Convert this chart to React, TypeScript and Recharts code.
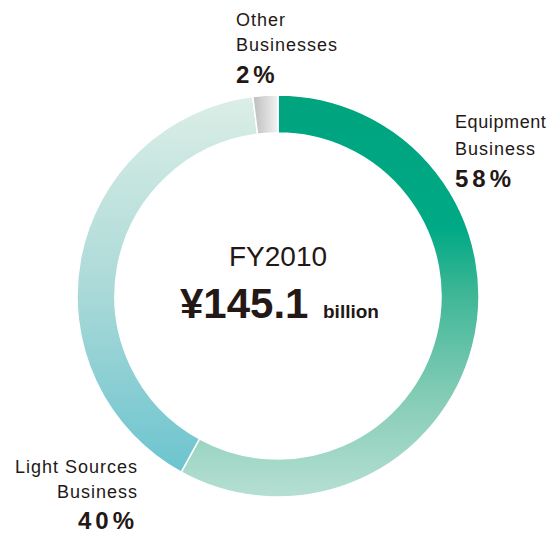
import { PieChart, Pie, Cell } from 'recharts'

const segments = ['Equipment Business', 'Light Sources Business', 'Other Businesses']
const shares = [58, 40, 2]
const fills = ['url(#gradEquipment)', 'url(#gradLight)', 'url(#gradOther)']

const data = segments.map((name, i) => ({ name, value: shares[i] }))

const font = '"Liberation Sans", Arial, Helvetica, sans-serif'
const ink = '#231815'

export default function App() {
  return (
    <PieChart width={547} height={525} style={{ overflow: 'visible' }}>
      <defs>
        <linearGradient id="gradEquipment" x1="0" y1="0" x2="0" y2="1">
          <stop offset="0" stopColor="#00a47f" />
          <stop offset="0.33" stopColor="#00a985" />
          <stop offset="0.5" stopColor="#40b797" />
          <stop offset="0.75" stopColor="#84ccb6" />
          <stop offset="1" stopColor="#b6dfd3" />
        </linearGradient>
        <linearGradient id="gradLight" x1="0" y1="0" x2="0" y2="1">
          <stop offset="0" stopColor="#dbeee6" />
          <stop offset="0.5" stopColor="#acdad8" />
          <stop offset="1" stopColor="#6cc4cf" />
        </linearGradient>
        <linearGradient id="gradOther" x1="0" y1="0" x2="1" y2="0">
          <stop offset="0" stopColor="#bdbdbd" />
          <stop offset="1" stopColor="#f2f2f2" />
        </linearGradient>
      </defs>
      <Pie
        data={data}
        dataKey="value"
        nameKey="name"
        cx={265}
        cy={283}
        innerRadius={163}
        outerRadius={201}
        startAngle={90}
        endAngle={-270}
        stroke="#ffffff"
        strokeWidth={1.5}
        isAnimationActive={false}
      >
        {data.map((d, i) => (
          <Cell key={d.name} fill={fills[i]} />
        ))}
      </Pie>

      <g fontFamily={font} fill={ink}>
        <text x={228} y={18} fontSize={18} letterSpacing={1}>Other</text>
        <text x={228} y={43} fontSize={18} letterSpacing={1}>Businesses</text>
        <text x={228} y={75} fontSize={24} fontWeight="bold" letterSpacing={4}>2%</text>

        <text x={447} y={120} fontSize={18} letterSpacing={0.6}>Equipment</text>
        <text x={447} y={147} fontSize={18} letterSpacing={1}>Business</text>
        <text x={447} y={179} fontSize={24} fontWeight="bold" letterSpacing={4}>58%</text>

        <text x={130} y={465} fontSize={18} letterSpacing={1} textAnchor="end">Light Sources</text>
        <text x={130} y={490} fontSize={18} letterSpacing={1} textAnchor="end">Business</text>
        <text x={130} y={521} fontSize={24} fontWeight="bold" letterSpacing={4} textAnchor="end">40%</text>

        <text x={270} y={258} fontSize={28} textAnchor="middle">FY2010</text>
        <text x={172} y={310} fontSize={42} fontWeight="bold">¥145.1</text>
        <text x={315} y={310} fontSize={19} fontWeight="bold">billion</text>
      </g>
    </PieChart>
  )
}
